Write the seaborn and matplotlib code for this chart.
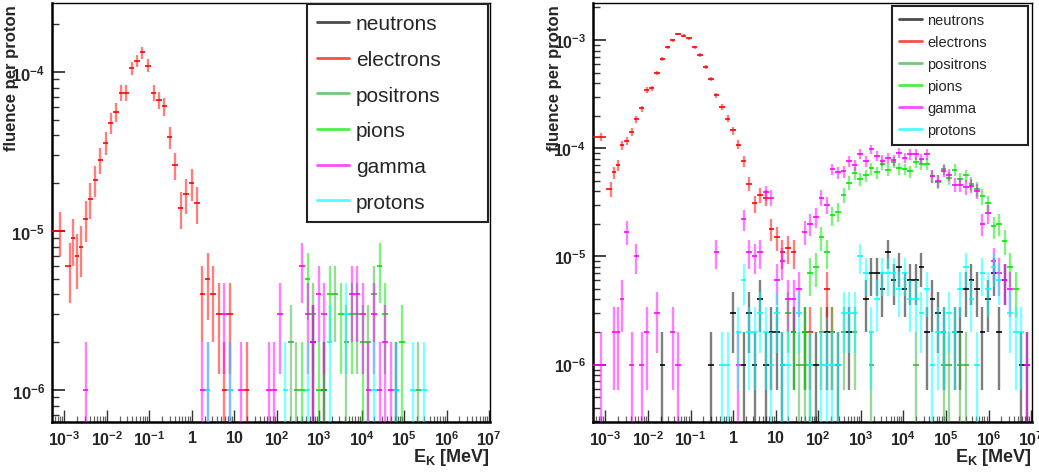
import numpy as np
import pandas as pd
import matplotlib
matplotlib.use('Agg')
import matplotlib.pyplot as plt
from matplotlib.lines import Line2D
from matplotlib.ticker import LogLocator, FuncFormatter, NullFormatter
import seaborn as sns

# bin centres, log10(E_K / MeV), same binning in both panels
BIN_LOGE = [-3.10, -2.875, -2.795, -2.70, -2.605, -2.50, -2.385, -2.27, -2.15, -2.03,
            -1.91, -1.785, -1.66, -1.54, -1.415, -1.29, -1.16, -1.03, -0.90, -0.775,
            -0.645, -0.52, -0.39, -0.26, -0.13, 0.0, 0.125] + list(0.245 + 0.1305 * np.arange(53))
UNIT = 1e-6  # fluence of one entry

# ---- left panel: bin index -> entries
l_neutrons_bins = [47, 49, 62]
l_neutrons_cnt = [2, 1, 1]
l_electrons_bins = list(range(0, 33)) + [35]
l_electrons_cnt = [10, 6, 9, 7, 8, 12, 16, 21, 28, 36, 48, 56, 74, 74, 106, 118, 133, 110, 74, 67,
                   61, 39, 26, 14, 17, 20, 15, 4, 5, 4, 3, 1, 3, 1]
l_positrons_bins = [43, 44, 47, 49, 51, 53, 55, 57, 58, 66]
l_positrons_cnt = [2, 1, 3, 1, 4, 2, 3, 2, 4, 1]
l_pions_bins = [45, 46, 48, 50, 52, 54, 56, 59, 60, 63]
l_pions_cnt = [1, 5, 1, 4, 3, 3, 2, 6, 3, 2]
l_gamma_bins = [5, 27, 28, 31, 32, 34, 39, 40, 41, 45, 46, 47, 48, 49, 54, 55, 56, 57, 58, 59, 60, 61]
l_gamma_cnt = [1, 1, 1, 3, 1, 1, 1, 1, 3, 6, 3, 2, 4, 3, 4, 4, 3, 1, 3, 1, 2, 1]
l_protons_bins = [28, 32, 42, 46, 50, 53, 58, 62, 65, 67]
l_protons_cnt = [1, 1, 1, 1, 2, 3, 1, 1, 1, 1]

# ---- right panel
r_neutrons_bins = [12, 21, 25, 27, 28, 29, 30, 31, 32, 33, 34, 36, 38, 40, 42, 44, 46, 49, 50, 51,
                   52, 53, 54, 55, 56, 57, 58, 59, 60, 61, 62, 63, 65, 66, 67, 68, 69, 70, 71, 72,
                   73, 74, 77, 78]
r_neutrons_cnt = [1, 1, 3, 1, 3, 1, 4, 1, 2, 2, 1, 2, 2, 1, 2, 1, 2, 4, 7, 7,
                  5, 11, 6, 8, 5, 6, 6, 8, 2, 4, 3, 2, 2, 2, 5, 6, 5, 2, 4, 7,
                  2, 6, 1, 1]
r_electrons_bins = list(range(0, 37)) + [39, 42, 43]
r_electrons_cnt = [128, 42, 60, 70, 107, 117, 142, 186, 233, 346, 357, 495, 667, 856, 1000, 1140,
                   1100, 1040, 856, 731, 567, 436, 308, 243, 188, 146, 108, 76, 47, 31, 37, 35,
                   18, 15, 11, 12, 11, 2, 5, 2]
r_positrons_bins = [37, 38, 39, 41, 43, 45, 47, 50, 58, 63, 64, 66, 67]
r_positrons_cnt = [1, 1, 1, 2, 2, 2, 2, 1, 1, 1, 1, 1, 1]
r_pions_bins = [35, 36, 38] + list(range(39, 77))
r_pions_cnt = [3, 2, 2, 7, 8, 15, 11, 24, 26, 37, 48, 59, 52, 56, 65, 60, 71, 63, 75, 65, 64, 61,
               74, 71, 72, 55, 49, 64, 53, 63, 52, 56, 47, 42, 36, 31, 19, 20, 14, 8, 5]
r_gamma_bins = [0, 2, 3, 4, 5, 6, 7, 8, 9, 11, 14, 15, 22, 26] + list(range(27, 76)) + [78]
r_gamma_cnt = [1, 2, 2, 4, 17, 1, 10, 1, 2, 3, 2, 1, 11, 1,
               22, 11, 10, 11, 39, 35, 6, 9, 4, 4, 5, 17, 20, 23, 35, 30, 64, 60, 61, 76, 70,
               89, 76, 98, 85, 77, 81, 78, 90, 82, 88, 88, 80, 88, 55, 50, 62, 57, 46, 46, 44,
               45, 40, 20, 25, 9, 7, 6, 5, 1]
r_protons_bins = [23, 24, 26, 27, 28, 29, 30, 31, 32, 33, 34, 35, 37, 39, 41, 42, 43, 44, 45, 46,
                  47, 48, 49, 50, 51, 52, 53, 54, 55, 56, 57, 58, 59, 60, 61, 62, 63, 64, 65, 66,
                  67, 68, 69, 70, 71, 72, 73, 75, 76, 77]
r_protons_cnt = [1, 1, 2, 6, 2, 2, 3, 2, 1, 3, 1, 1, 3, 1, 1, 1, 1, 1, 3, 3,
                 3, 10, 7, 2, 4, 7, 7, 7, 5, 7, 4, 4, 3, 5, 1, 2, 2, 3, 2, 5,
                 8, 4, 1, 7, 5, 8, 6, 3, 2, 2]

NAMES = ['neutrons', 'electrons', 'positrons', 'pions', 'gamma', 'protons']
COLORS = {'neutrons': '#000000', 'electrons': '#ff0000', 'positrons': '#3cb03c',
          'pions': '#00e600', 'gamma': '#ff00ff', 'protons': '#00ffff'}

centres = np.array(BIN_LOGE)
edges = np.concatenate([[-3.28], (centres[1:] + centres[:-1]) / 2, [centres[-1] + 0.065]])

sns.set_theme(style='white')
plt.rcParams['font.family'] = ['Liberation Sans', 'DejaVu Sans']
plt.rcParams['mathtext.fontset'] = 'custom'
plt.rcParams['mathtext.rm'] = 'Liberation Sans'
plt.rcParams['mathtext.bf'] = 'Liberation Sans:bold'
plt.rcParams['mathtext.it'] = 'Liberation Sans:italic'


def draw_hist(ax, bins, cnt, color, z):
    bins = np.asarray(bins)
    n = np.asarray(cnt, dtype=float)
    x = 10 ** centres[bins]
    y = n * UNIT
    err = np.sqrt(n) * UNIT
    low = np.where(y - err <= 0, y * 0.99999, err)
    ax.errorbar(x, y, yerr=[low, err], fmt='none', ecolor=color, elinewidth=1.7,
                alpha=0.5, capsize=0, zorder=z)
    ax.errorbar(x, y, xerr=[x - 10 ** edges[bins], 10 ** edges[bins + 1] - x], fmt='none',
                ecolor=color, elinewidth=1.3, alpha=0.9, capsize=0, zorder=z + 0.5)


def log_label(v, pos):
    e = int(round(np.log10(v)))
    if e == 0:
        return r'$\mathbf{1}$'
    if e == 1:
        return r'$\mathbf{10}$'
    return r'$\mathbf{10^{%d}}$' % e


def style_axes(ax, ylim, ysize):
    ax.set_xscale('log')
    ax.set_yscale('log')
    ax.set_xlim(10 ** -3.29, 10 ** 7.02)
    ax.set_ylim(*ylim)
    ax.xaxis.set_major_locator(LogLocator(base=10, numticks=30))
    ax.xaxis.set_minor_locator(LogLocator(base=10, subs=np.arange(2, 10), numticks=30))
    ax.yaxis.set_major_locator(LogLocator(base=10, numticks=30))
    ax.yaxis.set_minor_locator(LogLocator(base=10, subs=np.arange(2, 10), numticks=30))
    ax.xaxis.set_major_formatter(FuncFormatter(log_label))
    ax.yaxis.set_major_formatter(FuncFormatter(log_label))
    ax.xaxis.set_minor_formatter(NullFormatter())
    ax.yaxis.set_minor_formatter(NullFormatter())
    ax.tick_params(axis='x', which='major', direction='in', length=9, width=1.0,
                   color='#333333', labelsize=11.5, pad=5, bottom=True, top=False)
    ax.tick_params(axis='x', which='minor', direction='in', length=4.5, width=0.9,
                   color='#666666', bottom=True, top=False)
    ax.tick_params(axis='y', which='major', direction='in', length=9.5, width=1.2,
                   color='#222222', labelsize=ysize, pad=5, left=True, right=False)
    ax.tick_params(axis='y', which='minor', direction='in', length=5, width=1.0,
                   color='#333333', left=True, right=False)
    for side, lw in [('left', 1.8), ('bottom', 1.8), ('top', 1.0), ('right', 1.0)]:
        ax.spines[side].set_visible(True)
        ax.spines[side].set_color('black')
        ax.spines[side].set_linewidth(lw)
    ax.grid(False)


fig = plt.figure(figsize=(10.39, 4.77), dpi=100)
W, H = 1039, 477
ax1 = fig.add_axes([52 / W, (H - 423) / H, 438 / W, 419 / H])
ax2 = fig.add_axes([593 / W, (H - 423) / H, 439 / W, 419 / H])

left_data = {
    'neutrons': (l_neutrons_bins, l_neutrons_cnt),
    'electrons': (l_electrons_bins, l_electrons_cnt),
    'positrons': (l_positrons_bins, l_positrons_cnt),
    'pions': (l_pions_bins, l_pions_cnt),
    'gamma': (l_gamma_bins, l_gamma_cnt),
    'protons': (l_protons_bins, l_protons_cnt),
}
right_data = {
    'neutrons': (r_neutrons_bins, r_neutrons_cnt),
    'electrons': (r_electrons_bins, r_electrons_cnt),
    'positrons': (r_positrons_bins, r_positrons_cnt),
    'pions': (r_pions_bins, r_pions_cnt),
    'gamma': (r_gamma_bins, r_gamma_cnt),
    'protons': (r_protons_bins, r_protons_cnt),
}

for ax, data in [(ax1, left_data), (ax2, right_data)]:
    for i, name in enumerate(NAMES):
        b, c = data[name]
        draw_hist(ax, b, c, COLORS[name], 2 + i)

style_axes(ax1, (6.3e-7, 2.72e-4), 12)
style_axes(ax2, (2.95e-7, 2.2e-3), 11.5)

# legends
handles = [Line2D([0], [0], color=COLORS[n], lw=2, alpha=0.7) for n in NAMES]
leg1 = ax1.legend(handles, NAMES, loc='upper left', bbox_to_anchor=(0.582, 0.48, 0.413, 0.5176),
                  mode='expand', borderaxespad=0, fontsize=15, labelspacing=0.8, borderpad=0.5,
                  handlelength=1.5, handletextpad=0.35, fancybox=False, framealpha=1)
leg2 = ax2.legend(handles, NAMES, loc='upper left', bbox_to_anchor=(0.681, 0.663, 0.31, 0.33),
                  mode='expand', borderaxespad=0, fontsize=10.5, labelspacing=0.55, borderpad=0.5,
                  handlelength=1.55, handletextpad=0.35, fancybox=False, framealpha=1)
for leg in (leg1, leg2):
    leg.get_frame().set_edgecolor('#222222')
    leg.get_frame().set_linewidth(1.5)
    leg.set_zorder(20)

# axis titles
fig.text(12 / W, 1 - 5 / H, 'fluence per proton', rotation=90, ha='center', va='top',
         fontsize=12, fontweight='bold')
fig.text(555 / W, 1 - 5 / H, 'fluence per proton', rotation=90, ha='center', va='top',
         fontsize=12, fontweight='bold')
fig.text(490 / W, 1 - 447 / H, r'E$_{\mathbf{K}}$ [MeV]', ha='right', va='top',
         fontsize=13, fontweight='bold')
fig.text(1032 / W, 1 - 447 / H, r'E$_{\mathbf{K}}$ [MeV]', ha='right', va='top',
         fontsize=13, fontweight='bold')

fig.savefig('out.png', dpi=100)
